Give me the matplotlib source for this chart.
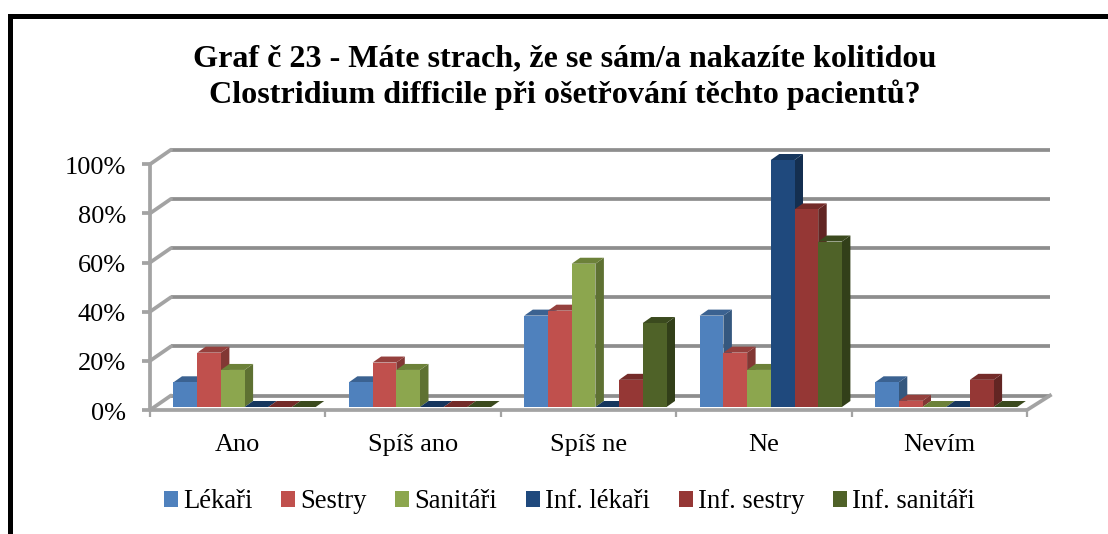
import matplotlib
matplotlib.use("Agg")
import matplotlib.pyplot as plt
from matplotlib.patches import Polygon, Rectangle

categories = ["Ano", "Spíš ano", "Spíš ne", "Ne", "Nevím"]
series_names = ["Lékaři", "Sestry", "Sanitáři", "Inf. lékaři", "Inf. sestry", "Inf. sanitáři"]
lekari = [10, 10, 37, 37, 10]
sestry = [22, 18, 39, 22, 2.5]
sanitari = [15, 15, 58, 15, 0]
inf_lekari = [0, 0, 0, 100, 0]
inf_sestry = [0, 0, 11, 80, 11]
inf_sanitari = [0, 0, 34, 67, 0]
series = [lekari, sestry, sanitari, inf_lekari, inf_sestry, inf_sanitari]
y_ticks = [0, 20, 40, 60, 80, 100]
y_labels = ["0%", "20%", "40%", "60%", "80%", "100%"]
title = "Graf č 23 - Máte strach, že se sám/a nakazíte kolitidou\nClostridium difficile při ošetřování těchto pacientů?"

front = ["#4F81BD", "#C0504D", "#8CA64E", "#1F497D", "#953735", "#4F6228"]
top = ["#3B6291", "#95403D", "#6C8139", "#17375E", "#742B29", "#3B4A1E"]
side = ["#35587F", "#823734", "#5E7132", "#142F50", "#622523", "#323F19"]

W, H = 1108, 534
PX = 175.4          # pixels per category
PY = 2.47           # pixels per percent
X0, Y0 = 150, 407   # pixel position of data origin

plt.rcParams["font.family"] = ["Liberation Serif", "DejaVu Serif"]
fig = plt.figure(figsize=(W / 100, H / 100), dpi=100)
ax = fig.add_axes([0, 0, 1, 1])
ax.set_xlim(-X0 / PX, (W - X0) / PX)
ax.set_ylim(-(H - Y0) / PY, Y0 / PY)
ax.axis("off")

dxw, dyw = 21 / PX, 14.5 / PY       # wall depth
dxb, dyb = 8.5 / PX, 6 / PY         # bar depth
floor = -3 / PY
n = len(categories)
GRID = "#8E8E8E"
AXC = "#A3A3A3"
LW = 2.7
SCALE = 0.995

for v, lab in zip(y_ticks, y_labels):
    yf = floor + v * SCALE
    yb = yf + dyw
    ax.plot([dxw, n + 23 / PX], [yb, yb], color=GRID, lw=LW, solid_capstyle="butt", zorder=1)
    ax.plot([0, dxw], [yf, yb], color=AXC, lw=LW, zorder=1, solid_capstyle="round")
    ax.plot([-8 / PX, 0], [yf, yf], color=AXC, lw=LW, solid_capstyle="butt", zorder=1)
    ax.text(-24 / PX, yf - 3.5 / PY, lab, ha="right", va="center", fontsize=19, color="black")

ytop = floor + 100 * SCALE
ax.plot([0, 0], [floor, ytop], color=AXC, lw=LW, zorder=2, solid_capstyle="butt")
ax.plot([0, n], [floor, floor], color=AXC, lw=LW, zorder=2, solid_capstyle="butt")
ax.plot([n, n + 23 / PX], [floor, floor + dyw], color=AXC, lw=LW, zorder=2)
for i in range(n + 1):
    ax.plot([i, i], [floor, floor - 7 / PY], color=AXC, lw=LW * 0.6, zorder=2, solid_capstyle="butt")
for i, c in enumerate(categories):
    ax.text(i + 0.5, floor - 35 / PY, c, ha="center", va="center", fontsize=19)

bw = 23.7 / PX
start = 23.5 / PX
z = 3
containers = []
for i in range(n):
    for s, vals in enumerate(series):
        v = vals[i]
        x = i + start + s * bw
        c = ax.bar(x, v, width=bw, align="edge", color=front[s], linewidth=0, zorder=z + 2)
        if i == 0:
            containers.append(c)
        ax.add_patch(Polygon([(x + bw, 0), (x + bw + dxb, dyb), (x + bw + dxb, v + dyb), (x + bw, v)],
                             closed=True, fc=side[s], ec="none", zorder=z))
        ax.add_patch(Polygon([(x, v), (x + dxb, v + dyb), (x + bw + dxb, v + dyb), (x + bw, v)],
                             closed=True, fc=top[s], ec="none", zorder=z + 1))
        z += 3

fig.suptitle(title, x=0.51, y=0.916, fontsize=23.1, fontweight="bold", linespacing=1.22, va="top")
leg = ax.legend(containers, series_names, ncol=6, loc="center", bbox_to_anchor=(569.5 / W, 1 - 502 / H),
                bbox_transform=fig.transFigure, frameon=False, fontsize=19.2,
                handlelength=0.52, handleheight=0.52, handletextpad=0.2, columnspacing=1.07, borderpad=0)

fig.add_artist(Rectangle((9.5 / W, -0.02), (W + 20) / W, 1.02 - 15.5 / H, transform=fig.transFigure,
                         fc="none", ec="black", lw=3.6))
fig.savefig("out.png", dpi=100, facecolor="white")
